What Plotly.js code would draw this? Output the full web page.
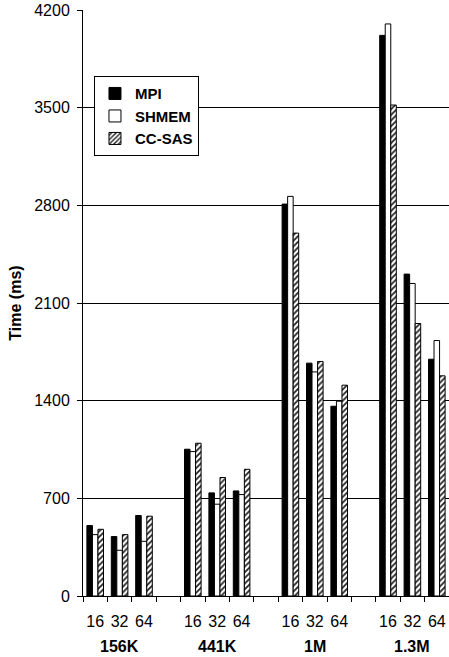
<!DOCTYPE html>
<html>
<head>
<meta charset="utf-8">
<script src="https://cdn.plot.ly/plotly-3.0.1.min.js"></script>
<style>html,body{margin:0;padding:0;background:#fff;}#chart{width:449px;height:657px;}</style>
</head>
<body>
<div id="chart"></div>
<script>
// Data
const groups = ["156K", "441K", "1M", "1.3M"];
const procs = ["16", "32", "64"];
const mpi   = [505, 426, 577,  1052, 739, 753,  2809, 1669, 1360,  4018, 2307, 1697];
const shmem = [440, 328, 392,  1035, 658, 727,  2864, 1606, 1396,  4100, 2240, 1831];
const ccsas = [478, 440, 572,  1095, 849, 908,  2601, 1681, 1511,  3519, 1953, 1578];
const yTicks = [0, 700, 1400, 2100, 2800, 3500, 4200];

// slot positions: 3 bar-groups per data set, one empty slot between sets
const xPos = [], xText = [];
groups.forEach((g, gi) => procs.forEach((p, pi) => { xPos.push(gi * 4 + pi); xText.push(p); }));
const nSlots = groups.length * 4 - 1;
const boundaries = [];
for (let i = 0; i <= nSlots; i++) boundaries.push(i - 0.5);

const font = "Arial, 'Liberation Sans', sans-serif";
const line = {color: "#000", width: 1};

const traces = [
  {type: "bar", name: "MPI", x: xPos, y: mpi, marker: {color: "#000", line: line}},
  {type: "bar", name: "SHMEM", x: xPos, y: shmem, marker: {color: "#fff", line: line}},
  {type: "bar", name: "CC-SAS", x: xPos, y: ccsas,
   marker: {color: "#fff", line: line,
            pattern: {shape: "/", size: 4, solidity: 0.45, fgcolor: "#222", bgcolor: "#fff"}}}
];

const annotations = groups.map((g, gi) => ({
  text: "<b>" + g + "</b>", x: gi * 4 + 1, xref: "x", y: 0, yref: "paper",
  yshift: -50, yanchor: "middle", xanchor: "center", showarrow: false,
  font: {family: font, size: 16, color: "#000"}
}));

const layout = {
  width: 449, height: 657,
  margin: {l: 83, r: 0, t: 10, b: 61},
  paper_bgcolor: "#fff", plot_bgcolor: "#fff",
  barmode: "group", bargap: 0.32, bargroupgap: 0,
  font: {family: font, size: 16, color: "#000"},
  showlegend: true,
  legend: {x: 0.03, y: 0.887, xanchor: "left", yanchor: "top",
           bgcolor: "#fff", bordercolor: "#000", borderwidth: 1,
           font: {family: font, size: 15, color: "#000", weight: "bold"},
           itemwidth: 30, tracegroupgap: 0},
  xaxis: {
    range: [-0.5, nSlots - 0.5], tickmode: "array", tickvals: xPos, ticktext: xText,
    ticks: "", showline: true, linecolor: "#000", linewidth: 1, showgrid: false, zeroline: false,
    ticklabelstandoff: 11, tickfont: {family: font, size: 16},
    minor: {tickmode: "array", tickvals: boundaries, ticks: "outside", ticklen: 5, tickcolor: "#000", tickwidth: 1, showgrid: false}
  },
  yaxis: {
    range: [0, 4200], tickmode: "array", tickvals: yTicks,
    ticks: "outside", ticklen: 5, tickcolor: "#000", showline: true, linecolor: "#000", linewidth: 1,
    showgrid: true, gridcolor: "#000", gridwidth: 1, zeroline: false,
    tickfont: {family: font, size: 16}, ticklabelstandoff: 4,
    title: {text: "<b>Time (ms)</b>", font: {family: font, size: 16}, standoff: 8}
  },
  annotations: annotations
};

Plotly.newPlot("chart", traces, layout, {displayModeBar: false, staticPlot: true});
</script>
</body>
</html>
